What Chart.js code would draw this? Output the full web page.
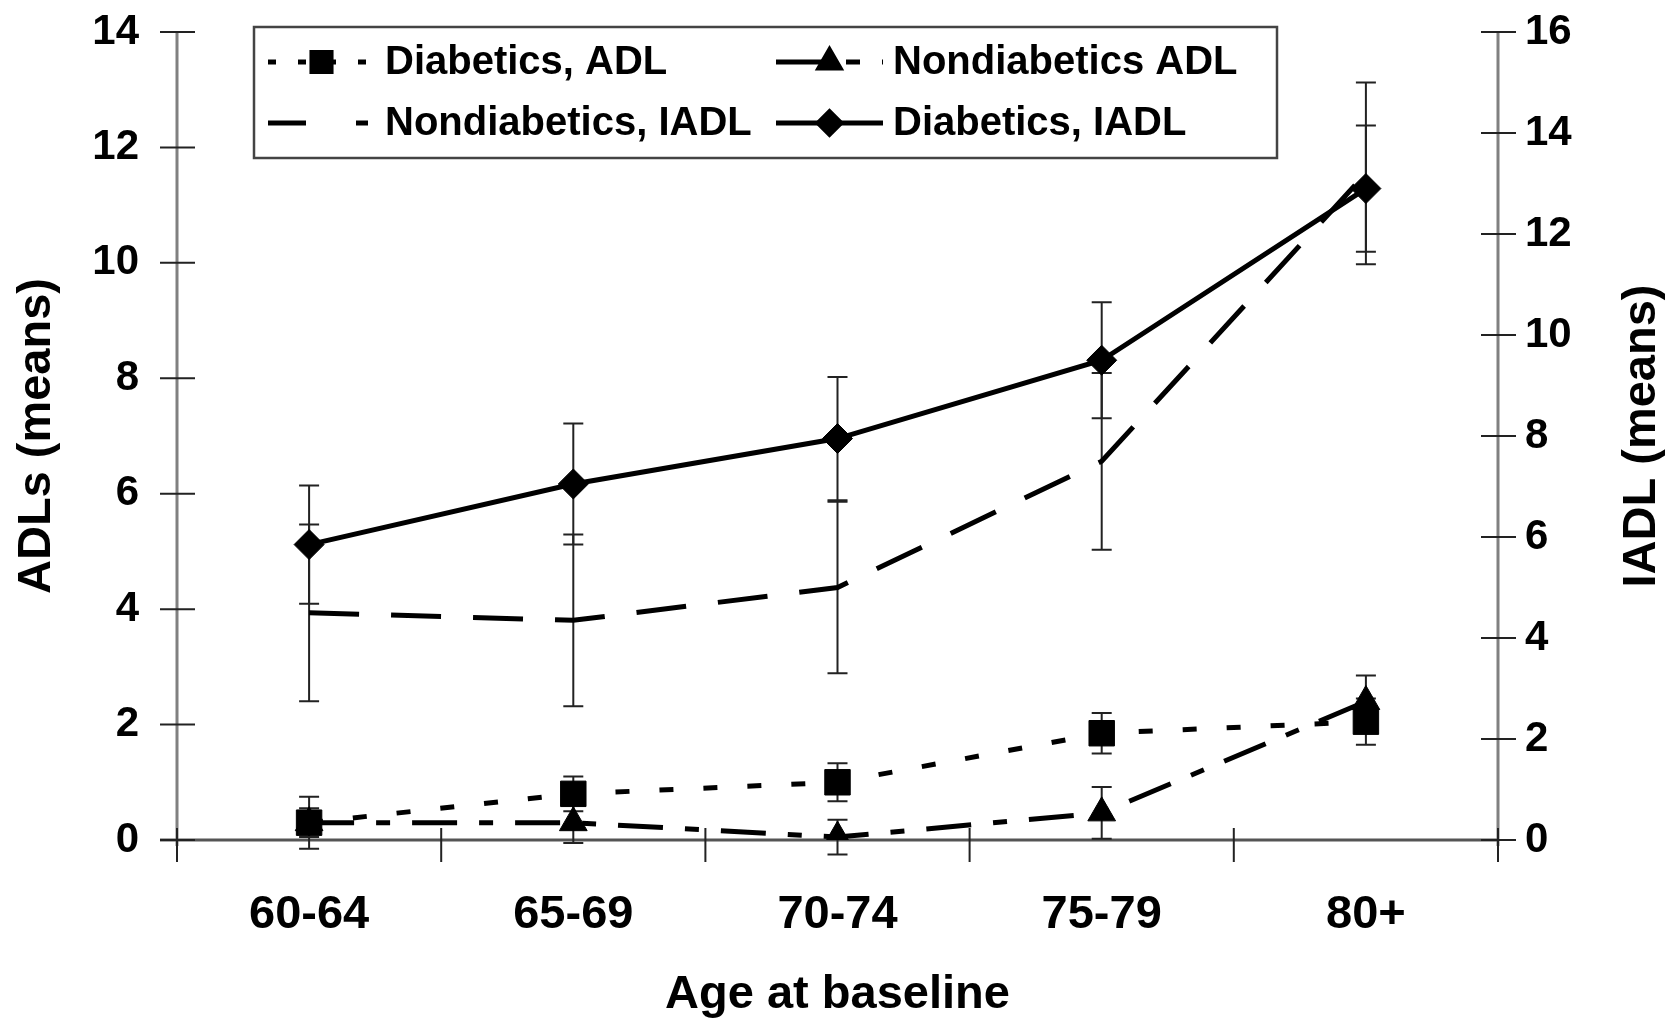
<!DOCTYPE html>
<html>
<head>
<meta charset="utf-8">
<title>ADL and IADL means by age at baseline</title>
<script src="https://cdn.jsdelivr.net/npm/chart.js@4.4.1/dist/chart.umd.min.js"></script>
<style>
  body { margin: 0; background: #fff; }
  #wrap { width: 1678px; height: 1019px; }
</style>
</head>
<body>
<div id="wrap"><canvas id="myChart"></canvas></div>
<script>
// age groups on the x axis
var categories = ['60-64', '65-69', '70-74', '75-79', '80+'];

// ADL means (left axis) and their error bars
var diabeticsAdl = [0.3, 0.8, 1.0, 1.85, 2.05];
var diabeticsAdlErr = [0.45, 0.3, 0.33, 0.35, 0.4];
var nondiabeticsAdl = [0.3, 0.3, 0.05, 0.47, 2.4];
var nondiabeticsAdlErr = [0.25, 0.35, 0.3, 0.45, 0.45];

// IADL means (right axis) and their error bars
var nondiabeticsIadl = [4.5, 4.35, 5.0, 7.5, 13.2];
var nondiabeticsIadlErr = [1.75, 1.7, 1.7, 1.75, 1.8];
var diabeticsIadl = [5.85, 7.05, 7.95, 9.5, 12.9];
var diabeticsIadlErr = [1.17, 1.2, 1.22, 1.15, 1.25];

// axis ranges
var adlMax = 14;
var iadlMax = 16;
var tickStep = 2;

var FONT = "'Liberation Sans', Arial, Helvetica, sans-serif";

// error bars, drawn under the markers
var errorBars = {
  id: 'errorBars',
  beforeDatasetsDraw: function(chart) {
    var ctx = chart.ctx;
    ctx.save();
    ctx.strokeStyle = '#222';
    ctx.lineWidth = 2;
    chart.data.datasets.forEach(function(ds, i) {
      var meta = chart.getDatasetMeta(i);
      var ys = chart.scales[ds.yAxisID];
      meta.data.forEach(function(pt, j) {
        var v = ds.data[j], e = ds.errors[j];
        var top = ys.getPixelForValue(v + e);
        var bot = ys.getPixelForValue(v - e);
        ctx.beginPath();
        ctx.moveTo(pt.x, top); ctx.lineTo(pt.x, bot);
        ctx.moveTo(pt.x - 10, top); ctx.lineTo(pt.x + 10, top);
        ctx.moveTo(pt.x - 10, bot); ctx.lineTo(pt.x + 10, bot);
        ctx.stroke();
      });
    });
    ctx.restore();
  }
};

// axis lines with tick marks crossing them
var crossAxes = {
  id: 'crossAxes',
  beforeDatasetsDraw: function(chart) {
    var ctx = chart.ctx;
    var a = chart.chartArea;
    var xs = chart.scales.x, yl = chart.scales.y, yr = chart.scales.y1;
    ctx.save();
    ctx.lineWidth = 3;
    ctx.strokeStyle = '#808080';
    ctx.beginPath();
    ctx.moveTo(a.left, a.top); ctx.lineTo(a.left, a.bottom + 6);
    ctx.moveTo(a.right, a.top); ctx.lineTo(a.right, a.bottom + 6);
    ctx.stroke();
    ctx.strokeStyle = '#555';
    ctx.beginPath();
    ctx.moveTo(a.left - 17, a.bottom); ctx.lineTo(a.right, a.bottom);
    ctx.stroke();

    ctx.lineWidth = 2;
    ctx.strokeStyle = '#222';
    ctx.beginPath();
    yl.ticks.forEach(function(t) {
      var y = yl.getPixelForValue(t.value);
      ctx.moveTo(a.left - 17, y); ctx.lineTo(a.left + 18, y);
    });
    yr.ticks.forEach(function(t) {
      var y = yr.getPixelForValue(t.value);
      ctx.moveTo(a.right - 17, y); ctx.lineTo(a.right + 18, y);
    });
    var half = (xs.getPixelForValue(1) - xs.getPixelForValue(0)) / 2;
    for (var i = 0; i <= categories.length; i++) {
      var x = xs.getPixelForValue(i) - half;
      ctx.moveTo(x, a.bottom - 12); ctx.lineTo(x, a.bottom + 22);
    }
    ctx.stroke();

    // right axis title reads bottom to top like the left one
    ctx.fillStyle = '#000';
    ctx.font = 'bold 47px ' + FONT;
    ctx.textAlign = 'center';
    ctx.textBaseline = 'middle';
    ctx.translate(1642, (a.top + a.bottom) / 2);
    ctx.rotate(-Math.PI / 2);
    ctx.fillText('IADL (means)', 0, 0);
    ctx.restore();
  }
};

// boxed legend in two columns inside the plot
var boxLegend = {
  id: 'boxLegend',
  afterDatasetsDraw: function(chart) {
    var ctx = chart.ctx;
    var cols = [268, 776];
    var rows = [62, 123];
    ctx.save();
    ctx.fillStyle = '#fff';
    ctx.fillRect(254, 27, 1023, 131);
    ctx.strokeStyle = '#444';
    ctx.lineWidth = 2.5;
    ctx.strokeRect(254, 27, 1023, 131);
    chart.data.datasets.forEach(function(ds, i) {
      var x0 = cols[i % 2], y = rows[Math.floor(i / 2)];
      var x1 = x0 + 107;
      ctx.strokeStyle = '#000';
      ctx.fillStyle = '#000';
      ctx.lineWidth = ds.borderWidth;
      ctx.setLineDash(ds.legendDash);
      ctx.beginPath();
      ctx.moveTo(x0, y); ctx.lineTo(x1, y);
      ctx.stroke();
      ctx.setLineDash([]);
      if (ds.pointRadius > 0) {
        Chart.helpers.drawPoint(ctx, {
          pointStyle: ds.pointStyle, rotation: 0,
          radius: ds.pointRadius * 0.75, borderWidth: 1
        }, (x0 + x1) / 2, y);
      }
      ctx.font = 'bold 40px ' + FONT;
      ctx.textAlign = 'left';
      ctx.textBaseline = 'middle';
      ctx.fillText(ds.label, x1 + 10, y + 1);
    });
    ctx.restore();
  }
};

// fixed axis box sizes so the plot area lands where the original has it
function fixWidth(w) {
  return function(s) {
    s.width = w;
    s.paddingTop = 0;
    s.paddingBottom = 0;
  };
}

var ctx = document.getElementById('myChart');

var data = {
  labels: categories,
  datasets: [{
    label: 'Diabetics, ADL',
    data: diabeticsAdl,
    errors: diabeticsAdlErr,
    yAxisID: 'y',
    borderColor: '#000',
    backgroundColor: '#000',
    borderWidth: 5,
    borderDash: [14, 30],
    legendDash: [8, 22],
    pointStyle: 'rect',
    pointRadius: 18,
    pointBorderWidth: 1
  }, {
    label: 'Nondiabetics ADL',
    data: nondiabeticsAdl,
    errors: nondiabeticsAdlErr,
    yAxisID: 'y',
    borderColor: '#000',
    backgroundColor: '#000',
    borderWidth: 5,
    borderDash: [45, 22, 14, 22],
    legendDash: [48, 22, 14, 22],
    pointStyle: 'triangle',
    pointRadius: 16,
    pointBorderWidth: 1
  }, {
    label: 'Nondiabetics, IADL',
    data: nondiabeticsIadl,
    errors: nondiabeticsIadlErr,
    yAxisID: 'y1',
    borderColor: '#000',
    backgroundColor: '#000',
    borderWidth: 5,
    borderDash: [50, 32],
    legendDash: [38, 50, 12, 10],
    pointRadius: 0
  }, {
    label: 'Diabetics, IADL',
    data: diabeticsIadl,
    errors: diabeticsIadlErr,
    yAxisID: 'y1',
    borderColor: '#000',
    backgroundColor: '#000',
    borderWidth: 5,
    legendDash: [],
    pointStyle: 'rectRot',
    pointRadius: 15,
    pointBorderWidth: 1
  }]
};

var options = {
  responsive: true,
  maintainAspectRatio: false,
  animation: false,
  layout: { padding: { top: 32, left: 0, right: 0, bottom: 0 } },
  plugins: {
    legend: { display: false },
    tooltip: { enabled: false }
  },
  scales: {
    x: {
      offset: true,
      grid: { display: false, drawTicks: false },
      border: { display: false },
      ticks: { color: '#000', padding: 47, font: { family: FONT, size: 47, weight: 'bold' } },
      title: { display: true, text: 'Age at baseline', color: '#000', padding: { top: 0, bottom: 0 },
        font: { family: FONT, size: 47, weight: 'bold', lineHeight: 1 } },
      afterFit: function(s) { s.height = 179; }
    },
    y: {
      position: 'left',
      min: 0, max: adlMax,
      grid: { display: false, drawTicks: false },
      border: { display: false },
      ticks: { stepSize: tickStep, color: '#000', padding: 38, font: { family: FONT, size: 42, weight: 'bold' } },
      title: { display: true, text: 'ADLs (means)', color: '#000', padding: { top: 14, bottom: 0 },
        font: { family: FONT, size: 47, weight: 'bold', lineHeight: 1 } },
      afterFit: fixWidth(177)
    },
    y1: {
      position: 'right',
      min: 0, max: iadlMax,
      grid: { display: false, drawTicks: false },
      border: { display: false },
      ticks: { stepSize: tickStep, color: '#000', padding: 27, font: { family: FONT, size: 42, weight: 'bold' } },
      afterFit: fixWidth(180)
    }
  }
};

var myChart = new Chart(ctx, {
  type: 'line',
  data: data,
  options: options,
  plugins: [crossAxes, errorBars, boxLegend]
});
</script>
</body>
</html>
